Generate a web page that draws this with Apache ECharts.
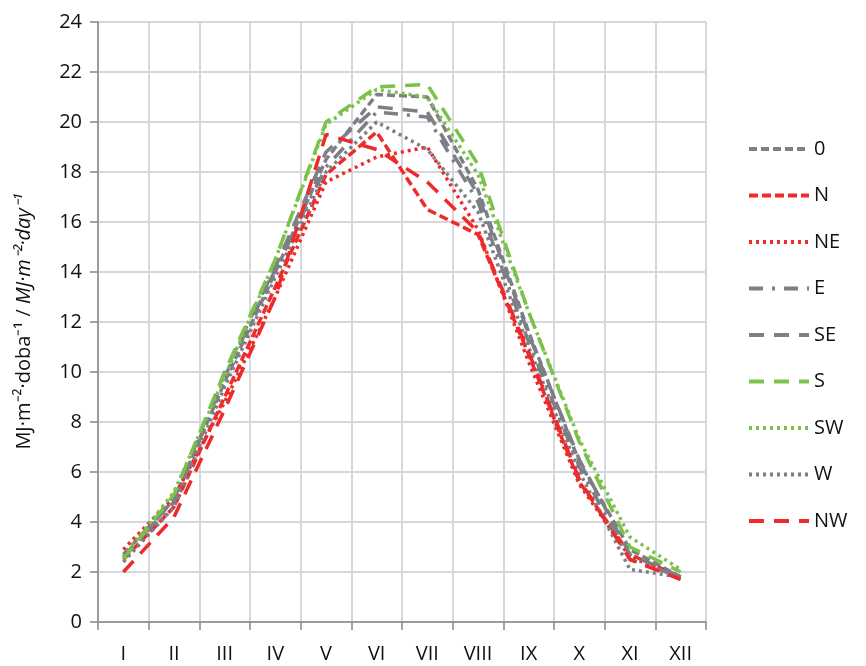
<!DOCTYPE html>
<html>
<head>
<meta charset="utf-8">
<script src="https://cdn.jsdelivr.net/npm/echarts@6/dist/echarts.min.js"></script>
<style>
html,body{margin:0;padding:0;background:#fff;}
#chart{width:866px;height:666px;}
</style>
</head>
<body>
<div id="chart"></div>
<script>
var months = ['I','II','III','IV','V','VI','VII','VIII','IX','X','XI','XII'];
var yTicks = [0,2,4,6,8,10,12,14,16,18,20,22,24];

var s0  = [2.7, 4.9, 9.6, 14.0, 18.5, 21.1, 21.0, 17.3, 11.6, 6.4, 2.9, 1.8];
var sN  = [2.5, 4.6, 9.0, 13.4, 17.9, 19.6, 16.5, 15.5, 10.7, 5.6, 2.7, 1.8];
var sNE = [2.9, 5.0, 8.8, 13.0, 17.6, 18.6, 19.0, 15.7, 10.4, 5.5, 2.6, 1.8];
var sE  = [2.6, 4.8, 9.8, 14.1, 18.2, 20.4, 20.2, 16.8, 11.2, 6.2, 2.5, 1.8];
var sSE = [2.6, 4.9, 10.0, 14.2, 18.8, 20.6, 20.4, 17.1, 11.5, 6.5, 2.7, 1.8];
var sS  = [2.5, 5.1, 10.0, 14.5, 20.0, 21.4, 21.5, 18.3, 12.4, 7.2, 3.0, 2.0];
var sSW = [2.6, 5.2, 9.8, 14.5, 19.9, 21.3, 21.0, 17.9, 12.4, 7.3, 3.4, 2.1];
var sW  = [2.4, 4.6, 9.4, 13.8, 18.0, 20.0, 18.9, 16.4, 11.0, 6.0, 2.1, 1.8];
var sNW = [2.0, 4.2, 8.5, 13.0, 19.5, 18.9, 17.6, 15.6, 10.8, 5.7, 2.5, 1.7];

var GRAY = '#7d7e86', RED = '#ee2b2b', GREEN = '#7cc24a';

function mk(name, data, color, dash) {
  return {
    name: name, type: 'line', data: data, symbol: 'none', smooth: false,
    lineStyle: { color: color, width: 3.5, type: dash, cap: 'butt' },
    itemStyle: { color: color },
    emphasis: { disabled: true }
  };
}

var series = [
  mk('0', s0, GRAY, [8,4]),
  mk('N', sN, RED, [9,4]),
  mk('NE', sNE, RED, [3,4]),
  mk('E', sE, GRAY, [14,9,3,9]),
  mk('SE', sSE, GRAY, [15,10]),
  mk('S', sS, GREEN, [15,10]),
  mk('SW', sSW, GREEN, [3,4]),
  mk('W', sW, GRAY, [3,4]),
  mk('NW', sNW, RED, [15,10])
];

var chart = echarts.init(document.getElementById('chart'), null, {renderer:'canvas'});
chart.setOption({
  animation: false,
  backgroundColor: '#fff',
  textStyle: { fontFamily: 'Open Sans' },
  grid: { left: 98, right: 160, top: 22, bottom: 44, containLabel: false },
  legend: {
    orient: 'vertical', left: 747, top: 139, padding: 0,
    itemWidth: 60, itemHeight: 14, itemGap: 26.5,
    itemStyle: { opacity: 0 },
    lineStyle: { width: 4 },
    textStyle: { fontSize: 20, color: '#111', fontFamily: 'Open Sans' },
    data: series.map(function(s){ return s.name; })
  },
  xAxis: {
    type: 'category', data: months, boundaryGap: true,
    axisLine: { lineStyle: { color: '#888', width: 1.5 } },
    axisTick: { show: true, length: 8, lineStyle: { color: '#888', width: 1.5 } },
    axisLabel: { fontSize: 20, color: '#111', margin: 22, fontFamily: 'Open Sans' },
    splitLine: { show: true, lineStyle: { color: '#d6d7da', width: 2 } }
  },
  yAxis: {
    type: 'value', min: yTicks[0], max: yTicks[yTicks.length-1], interval: 2,
    name: 'MJ·m⁻²·doba⁻¹ / {i|MJ·m⁻²·day⁻¹}',
    nameLocation: 'middle', nameGap: 64, nameRotate: 90,
    nameTextStyle: { fontSize: 20, color: '#111', fontFamily: 'Open Sans',
      rich: { i: { fontSize: 20, fontStyle: 'italic', color: '#111', fontFamily: 'Open Sans' } } },
    axisLine: { show: true, lineStyle: { color: '#888', width: 1.5 } },
    axisTick: { show: true, length: 8, lineStyle: { color: '#888', width: 1.5 } },
    axisLabel: { fontSize: 20, color: '#111', margin: 16, fontFamily: 'Open Sans' },
    splitLine: { show: true, lineStyle: { color: '#d6d7da', width: 2 } }
  },
  series: series
});
</script>
</body>
</html>
